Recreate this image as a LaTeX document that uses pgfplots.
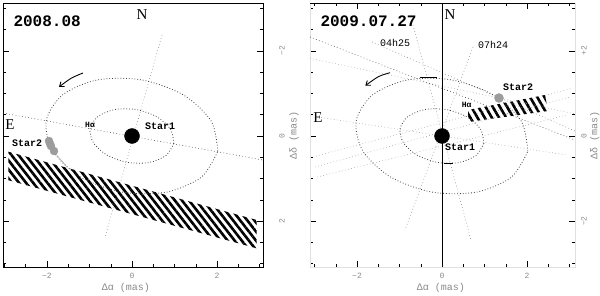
\documentclass[border=0pt]{standalone}
\usepackage{fontspec}
\setmainfont{Liberation Serif}
\setmonofont{Liberation Mono}
\usepackage{pgfplots}
\usepackage{pgfplotstable}
\pgfplotsset{compat=1.18}
\usetikzlibrary{patterns.meta,arrows.meta}

\definecolor{dotdark}{HTML}{404040}
\definecolor{dotmid}{HTML}{8A8A8A}
\definecolor{dotlight}{HTML}{ABABAB}
\definecolor{stargray}{HTML}{9C9C9C}
\definecolor{labgray}{HTML}{8A8A8A}

% orbit ellipses (mas)
\pgfplotstableread{
x y
2.019 -0.356
1.864 0.352
1.211 0.965
0.233 1.320
-0.808 1.321
-1.632 0.968
-2.019 0.356
-1.864 -0.352
-1.211 -0.965
-0.233 -1.320
0.808 -1.321
1.632 -0.968
2.019 -0.356
}\outerell
\pgfplotstableread{
x y
0.985 -0.174
0.908 0.160
0.587 0.450
0.109 0.620
-0.399 0.624
-0.798 0.460
-0.985 0.174
-0.908 -0.160
-0.587 -0.450
-0.109 -0.620
0.399 -0.624
0.798 -0.460
0.985 -0.174
}\innerell

\pgfplotsset{
  panel/.style={
    scale only axis, anchor=south west, height=264pt,
    ymin=-3.082, ymax=3.129, clip=false,
    xtick={-2,0,2}, xticklabels={−2,0,2},
    ytick={-2,0,2},
    minor xtick={-3,-2.5,...,3}, minor ytick={-3,-2.5,...,3},
    major tick length=6pt, minor tick length=3pt,
    tick style={black, line width=0.5pt},
    yticklabel pos=right,
    xticklabel style={font=\ttfamily\fontsize{8}{8}\selectfont, text=labgray, anchor=north, inner sep=0pt},
    yticklabel style={font=\ttfamily\fontsize{8}{8}\selectfont, text=labgray, rotate=90, anchor=north, inner sep=0pt},
    xticklabel shift=6pt,
    xlabel={Δα (mas)}, ylabel={Δδ (mas)},
    every axis x label/.style={anchor=center, font=\ttfamily\fontsize{10}{10}\selectfont, text=labgray},
    every axis y label/.style={rotate=90, anchor=center, font=\ttfamily\fontsize{10}{10}\selectfont, text=labgray},
  },
  ell/.style={dotdark, line width=0.8pt, dash pattern=on 0.8pt off 2pt, smooth},
}
\tikzset{
  bigtext/.style={font=\ttfamily\bfseries\fontsize{16}{16}\selectfont, anchor=west},
  lab/.style={font=\ttfamily\bfseries\fontsize{10}{10}\selectfont},
  dir/.style={font=\fontsize{15}{15}\selectfont},
}

\begin{document}
\begin{tikzpicture}
\useasboundingbox (0,0) rectangle (600pt,295pt);

% ---- 2008.08 ----
\begin{axis}[panel, at={(3pt,28pt)}, width=260pt,
  xmin=-3.035, xmax=3.082, xtick pos=left,
  yticklabels={2,0,−2}, yticklabel shift=16pt,
  axis line style={black, line width=0.8pt},
  xlabel style={at={(rel axis cs:0.473,-0.08)}},
  ylabel style={at={(rel axis cs:1.119,0.5)}}]
  \addplot[draw=none, pattern={Lines[angle=-52,distance=5.6pt,line width=2.6pt]}]
    coordinates {(-2.911,-0.369) (2.934,-1.976) (2.934,-2.643) (-2.911,-1.040)} -- cycle;
  \addplot[dotdark, line width=0.6pt, dash pattern=on 0.7pt off 2.5pt] coordinates {(-3.035,0.541) (3.082,-0.565)};
  \addplot[dotmid, line width=0.6pt, dash pattern=on 0.7pt off 2.5pt] coordinates {(0.706,2.376) (-0.635,-2.376)};
  \addplot[ell] table {\outerell};
  \addplot[ell] table {\innerell};
  \addplot[dotlight, line width=0.5pt] coordinates {(-1.812,-0.40) (-1.529,-0.729)};
  \addplot[only marks, mark=*, mark size=4pt, mark options={draw=stargray, fill=stargray}]
    coordinates {(-1.953,-0.118) (-1.93,-0.18) (-1.906,-0.235) (-1.835,-0.353)};
  \addplot[only marks, mark=*, mark size=7.5pt, black] coordinates {(0,0)};
  \addplot[black, line width=0.9pt, smooth, -{Straight Barb[length=4pt,width=6pt]}]
    coordinates {(-1.153,1.482) (-1.435,1.357) (-1.718,1.153)};
  \node[bigtext] at (axis cs:-2.871,2.706) {2008.08};
  \node[dir] at (axis cs:0.235,2.847) {N};
  \node[dir] at (axis cs:-2.871,0.259) {E};
  \node[lab] at (axis cs:0.659,0.235) {Star1};
  \node[lab] at (axis cs:-2.47,-0.165) {Star2};
  \node[font=\ttfamily\bfseries\fontsize{8}{8}\selectfont] at (axis cs:-0.988,0.259) {Hα};
\end{axis}

% ---- 2009.07.27 ----
\begin{axis}[panel, at={(310pt,28pt)}, width=265pt,
  xmin=-3.106, xmax=3.129,
  yticklabels={−2,0,+2}, yticklabel shift=6pt,
  axis line style={draw=black!12},
  xlabel style={at={(rel axis cs:0.494,-0.08)}},
  ylabel style={at={(rel axis cs:1.075,0.5)}}]
  \draw[black, line width=0.8pt] (rel axis cs:0,1) -- (rel axis cs:1,1);
  \addplot[draw=none, pattern={Lines[angle=-60,distance=6.2pt,line width=2.6pt]}]
    coordinates {(0.612,0.612) (2.424,0.965) (2.494,0.588) (0.612,0.329)} -- cycle;
  \addplot[dotlight, line width=0.6pt, dash pattern=on 0.7pt off 2.5pt] coordinates {(-2.918,0.447) (2.941,-0.447)};
  \addplot[dotlight, line width=0.6pt, dash pattern=on 0.7pt off 2.5pt] coordinates {(-2.965,-0.471) (3.082,1.129)};
  \addplot[dotlight, line width=0.6pt, dash pattern=on 0.7pt off 2.5pt] coordinates {(-2.988,-0.729) (3.012,0.918)};
  \addplot[dotlight, line width=0.6pt, dash pattern=on 0.7pt off 2.5pt] coordinates {(-2.941,-0.965) (2.941,0.494)};
  \addplot[dotlight, line width=0.6pt, dash pattern=on 0.7pt off 2.5pt] coordinates {(-3.106,1.826) (3.129,0.520)};
  \addplot[dotmid, line width=0.6pt, dash pattern=on 0.7pt off 2.5pt] coordinates {(-1.647,2.212) (3.129,0.118)};
  \addplot[dotmid, line width=0.6pt, dash pattern=on 0.7pt off 2.5pt] coordinates {(-0.682,2.612) (0.682,-2.447)};
  \addplot[dotmid, line width=0.6pt, dash pattern=on 0.7pt off 2.5pt] coordinates {(0.729,2.094) (-0.871,-2.212)};
  \addplot[dotdark, line width=0.6pt, dash pattern=on 0.7pt off 2.5pt] coordinates {(-3.106,2.329) (3.129,-0.094)};
  \addplot[ell] table {\outerell};
  \addplot[ell] table {\innerell};
  \addplot[black, line width=0.6pt] coordinates {(-0.518,1.388) (-0.118,1.388)};
  \addplot[black, line width=0.6pt] coordinates {(0.05,-0.635) (0.25,-0.635)};
  \addplot[black, line width=0.8pt] coordinates {(0,-3.082) (0,3.129)};
  \addplot[only marks, mark=*, mark size=4.5pt, mark options={draw=stargray, fill=stargray}]
    coordinates {(1.341,0.894)};
  \addplot[only marks, mark=*, mark size=7.5pt, black] coordinates {(0,0)};
  \addplot[black, line width=0.9pt, smooth, -{Straight Barb[length=4pt,width=6pt]}]
    coordinates {(-1.224,1.489) (-1.498,1.395) (-1.805,1.183)};
  \node[bigtext] at (axis cs:-2.941,2.706) {2009.07.27};
  \node[dir] at (axis cs:0.188,2.847) {N};
  \node[dir] at (axis cs:-2.918,0.424) {E};
  \node[lab] at (axis cs:0.424,-0.259) {Star1};
  \node[lab] at (axis cs:1.788,1.153) {Star2};
  \node[font=\ttfamily\bfseries\fontsize{8}{8}\selectfont] at (axis cs:0.581,0.729) {Hα};
  \node[font=\ttfamily\fontsize{10}{10}\selectfont] at (axis cs:-1.106,2.188) {04h25};
  \node[font=\ttfamily\fontsize{10}{10}\selectfont] at (axis cs:1.2,2.141) {07h24};
\end{axis}
\end{tikzpicture}
\end{document}
